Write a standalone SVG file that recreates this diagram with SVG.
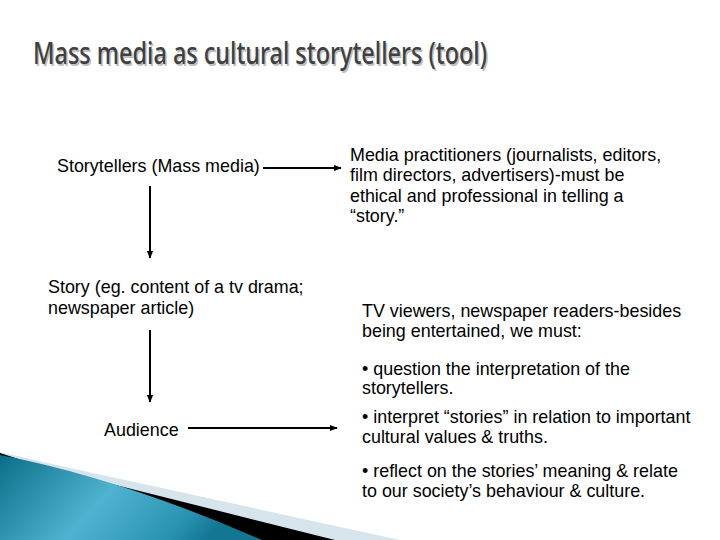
<svg xmlns="http://www.w3.org/2000/svg" width="720" height="540" viewBox="0 0 720 540">
<defs>
  <style>
    .t { font-family: "Liberation Sans", Arial, sans-serif; font-size: 17.9px; fill: #000; }
    .title { font-family: "Noto Sans", "DejaVu Sans", sans-serif; font-size: 31px; font-weight: 500; }
    .conn { stroke: #000; stroke-width: 2; fill: none; marker-end: url(#ah); }
  </style>
  <marker id="ah" viewBox="0 0 10 10" refX="9" refY="5" markerWidth="4" markerHeight="4" orient="auto" markerUnits="strokeWidth">
    <path d="M0,1 L10,5 L0,9 z" fill="#000"/>
  </marker>
  <linearGradient id="teal" x1="0" y1="0" x2="1" y2="0.3">
    <stop offset="0" stop-color="#0b6e89"/>
    <stop offset="0.5" stop-color="#4fb3d0"/>
    <stop offset="0.85" stop-color="#2a93b2"/>
    <stop offset="1" stop-color="#137693"/>
  </linearGradient>
</defs>
<rect width="720" height="540" fill="#fff"/>
<g id="decor">
  <path d="M0,452 L70,468 L400,540 L0,540 Z" fill="#d6e5ec"/>
  <path d="M0,453 L40,466 L335,540 L0,540 Z" fill="#000"/>
  <path d="M0,455 Q120,478 262,540 L0,540 Z" fill="url(#teal)"/>
</g>
<g id="title">
  <text class="title" x="34.5" y="65.5" fill="#c0c0c0" textLength="454" lengthAdjust="spacingAndGlyphs">Mass media as cultural storytellers (tool)</text>
  <text class="title" x="33" y="64" fill="#404040" textLength="454" lengthAdjust="spacingAndGlyphs">Mass media as cultural storytellers (tool)</text>
</g>
<g id="connectors">
  <line class="conn" x1="263" y1="168" x2="341" y2="168"/>
  <line class="conn" x1="150" y1="186" x2="150" y2="258"/>
  <line class="conn" x1="150" y1="330" x2="150" y2="402"/>
  <line class="conn" x1="188" y1="428" x2="337" y2="428"/>
</g>
<g id="storytellers">
  <text class="t" x="57" y="172">Storytellers (Mass media)</text>
</g>
<g id="story">
  <text class="t" x="48" y="293">Story (eg. content of a tv drama;</text>
  <text class="t" x="48" y="314">newspaper article)</text>
</g>
<g id="audience">
  <text class="t" x="104" y="436">Audience</text>
</g>
<g id="practitioners">
  <text class="t" x="350" y="161">Media practitioners (journalists, editors,</text>
  <text class="t" x="350" y="181">film directors, advertisers)-must be</text>
  <text class="t" x="350" y="202">ethical and professional in telling a</text>
  <text class="t" x="350" y="222">“story.”</text>
</g>
<g id="viewers">
  <text class="t" x="362" y="317">TV viewers, newspaper readers-besides</text>
  <text class="t" x="362" y="337">being entertained, we must:</text>
  <text class="t" x="362" y="375">• question the interpretation of the</text>
  <text class="t" x="362" y="394">storytellers.</text>
  <text class="t" x="362" y="423">• interpret “stories” in relation to important</text>
  <text class="t" x="362" y="443">cultural values &amp; truths.</text>
  <text class="t" x="362" y="477">• reflect on the stories’ meaning &amp; relate</text>
  <text class="t" x="362" y="497">to our society’s behaviour &amp; culture.</text>
</g>
</svg>
